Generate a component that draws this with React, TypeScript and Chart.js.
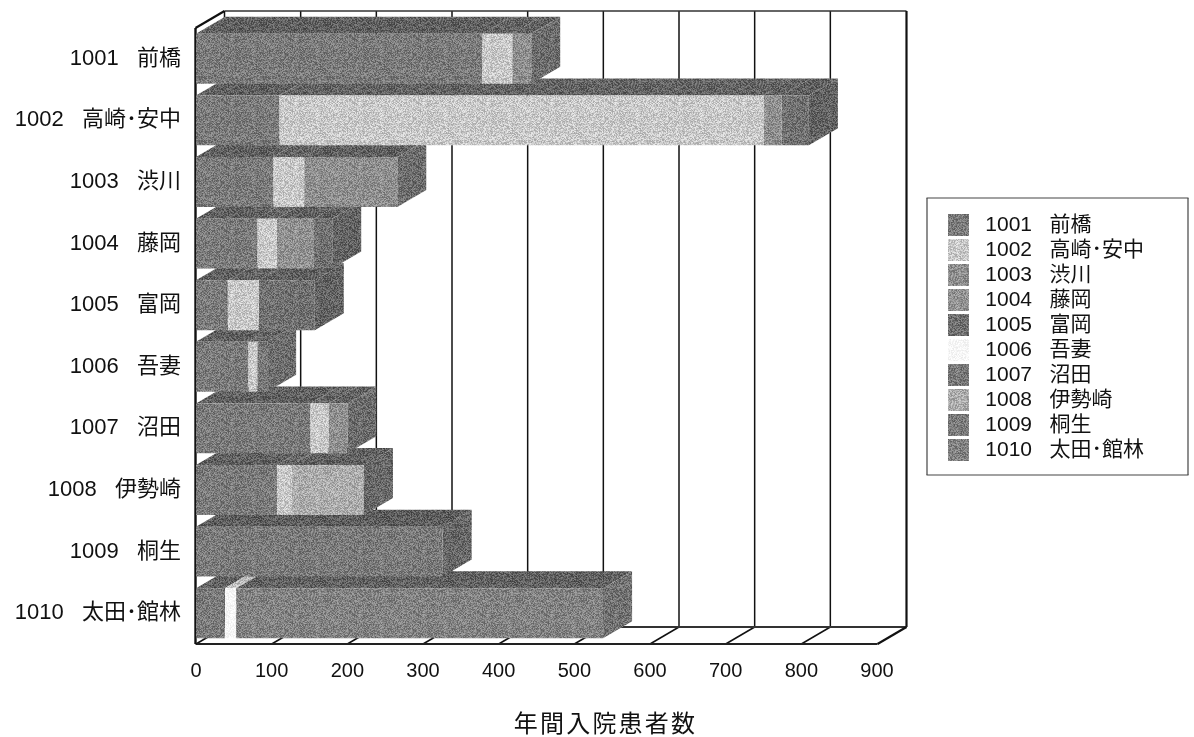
import React, { useEffect, useRef } from "react";
import { Chart, registerables } from "chart.js";

Chart.register(...registerables);

const categories = ["1001   前橋", "1002   高崎･安中", "1003   渋川", "1004   藤岡", "1005   富岡", "1006   吾妻", "1007   沼田", "1008   伊勢崎", "1009   桐生", "1010   太田･館林"];
const s1001 = [378, 110, 102, 81, 42, 69, 151, 107, 0, 38];
const s1002 = [40, 640, 41, 26, 41, 12, 24, 20, 0, 0];
const s1003 = [25, 24, 123, 0, 0, 0, 25, 0, 0, 0];
const s1004 = [0, 0, 0, 49, 0, 0, 0, 0, 0, 0];
const s1005 = [0, 36, 0, 24, 74, 0, 0, 0, 0, 0];
const s1006 = [0, 0, 0, 0, 0, 0, 0, 0, 0, 15];
const s1007 = [0, 0, 0, 0, 0, 13, 0, 0, 0, 0];
const s1008 = [0, 0, 0, 0, 0, 0, 0, 95, 0, 0];
const s1009 = [0, 0, 0, 0, 0, 0, 0, 0, 326, 0];
const s1010 = [0, 0, 0, 0, 0, 0, 0, 0, 0, 485];
const seriesValues = [s1001, s1002, s1003, s1004, s1005, s1006, s1007, s1008, s1009, s1010];
const frontGrays = [122, 200, 142, 145, 112, 246, 120, 172, 122, 130];
const topGrays = [96, 100, 96, 96, 96, 190, 96, 96, 92, 96];
const sideGrays = [108, 108, 108, 108, 98, 108, 108, 104, 102, 114];
const xMax = 900;
const xStep = 100;

const DX = 29;
const DY = 17;

function dither(gray: number): CanvasPattern {
  const n = 64;
  const c = document.createElement("canvas");
  c.width = n;
  c.height = n;
  const g = c.getContext("2d")!;
  const amp = gray > 235 ? 24 : 70;
  for (let y = 0; y < n; y++) {
    for (let x = 0; x < n; x++) {
      const h = Math.sin(x * 12.9898 + y * 78.233) * 43758.5453;
      const f = h - Math.floor(h);
      const v = Math.max(0, Math.min(255, Math.round(gray + (f - 0.5) * amp)));
      g.fillStyle = `rgb(${v},${v},${v})`;
      g.fillRect(x, y, 1, 1);
    }
  }
  return g.createPattern(c, "repeat")!;
}

const line = (ctx: CanvasRenderingContext2D, x1: number, y1: number, x2: number, y2: number, w: number, col = "#111") => {
  ctx.strokeStyle = col;
  ctx.lineWidth = w;
  ctx.beginPath();
  ctx.moveTo(x1, y1);
  ctx.lineTo(x2, y2);
  ctx.stroke();
};

const poly = (ctx: CanvasRenderingContext2D, pts: number[][], fill: CanvasPattern) => {
  ctx.fillStyle = fill;
  ctx.beginPath();
  pts.forEach((p, i) => (i ? ctx.lineTo(p[0], p[1]) : ctx.moveTo(p[0], p[1])));
  ctx.closePath();
  ctx.fill();
};

export default function App() {
  const ref = useRef<HTMLCanvasElement>(null);
  useEffect(() => {
    const topFill = topGrays.map(dither);
    const sideFill = sideGrays.map(dither);

    const frame = {
      id: "frame3d",
      beforeDraw(chart: any) {
        const { ctx, chartArea: a, scales } = chart;
        const x = scales.x;
        const lg = chart.legend;
        lg.left = 945;
        lg.right = 1186;
        lg.top = 211;
        lg.bottom = 471;
        ctx.save();
        line(ctx, 927, 198, 927, 475, 1.2, "#444");
        line(ctx, 926.5, 475, 1188.5, 475, 1.2, "#444");
        line(ctx, 1188, 475, 1188, 198, 1.2, "#444");
        line(ctx, 1188.5, 198, 926.5, 198, 1.2, "#444");
        for (let v = xStep; v < xMax; v += xStep) {
          const px = x.getPixelForValue(v);
          line(ctx, px + DX, a.top - DY, px + DX, a.bottom - DY, 1.5);
        }
        for (let v = 0; v < xMax; v += xStep) {
          const px = x.getPixelForValue(v);
          line(ctx, px, a.bottom, px + DX, a.bottom - DY, 1.5);
        }
        const L = a.left - 0.5;
        const R = a.right + 0.5;
        line(ctx, L + DX, a.top - DY, R + DX, a.top - DY, 1.5, "#333");
        line(ctx, R + DX, a.top - DY, R + DX, a.bottom - DY, 2.2);
        line(ctx, L + DX, a.top - DY, L + DX, a.bottom - DY, 1.5);
        line(ctx, L + DX, a.bottom - DY, R + DX, a.bottom - DY, 1.8, "#333");
        line(ctx, R, a.bottom, R + DX, a.bottom - DY, 2.2);
        line(ctx, L, a.bottom, R, a.bottom, 2.2, "#222");
        line(ctx, L, a.top, L + DX, a.top - DY, 2.2);
        line(ctx, L, a.top, L, a.bottom, 2.4);
        ctx.restore();

        if (!x.__patched) {
          x.__patched = true;
          const orig = x.drawTitle;
          x.drawTitle = function () {
            ctx.save();
            ctx.translate(69, 3);
            (ctx as any).letterSpacing = "2.2px";
            orig.call(this);
            ctx.restore();
          };
        }
      },
      beforeDatasetsDraw(chart: any) {
        const { ctx } = chart;
        const metas = seriesValues.map((_, i) => chart.getDatasetMeta(i));
        for (let r = categories.length - 1; r >= 0; r--) {
          let last = -1;
          metas.forEach((m: any, i: number) => {
            if (!seriesValues[i][r]) return;
            last = i;
            const el = m.data[r];
            const t = el.y - el.height / 2;
            poly(ctx, [[el.base, t], [el.x, t], [el.x + DX, t - DY], [el.base + DX, t - DY]], topFill[i]);
          });
          if (last >= 0) {
            const el = metas[last].data[r];
            const t = el.y - el.height / 2;
            const b = el.y + el.height / 2;
            poly(ctx, [[el.x, t], [el.x + DX, t - DY], [el.x + DX, b - DY], [el.x, b]], sideFill[last]);
          }
        }
      },
    };

    const family = "'Liberation Sans','Noto Sans CJK JP',sans-serif";
    const chart = new Chart(ref.current!, {
      type: "bar",
      data: {
        labels: categories,
        datasets: seriesValues.map((data, i) => ({
          label: categories[i],
          data,
          backgroundColor: dither(frontGrays[i]),
          borderWidth: 0,
          categoryPercentage: 1,
          barPercentage: 0.81,
        })),
      },
      options: {
        indexAxis: "y",
        responsive: false,
        animation: false,
        layout: { padding: { left: 0, top: 28, right: 317, bottom: 0 } },
        plugins: {
          tooltip: { enabled: false },
          legend: {
            position: "chartArea",
            align: "start",
            labels: {
              boxWidth: 21,
              boxHeight: 22,
              padding: 3,
              color: "#111",
              font: { family, size: 21 },
              generateLabels: (c: any) =>
                Chart.defaults.plugins.legend.labels.generateLabels(c).map((it: any) => ({ ...it, text: " " + it.text })),
            },
          },
        },
        scales: {
          x: {
            type: "linear",
            stacked: true,
            min: 0,
            max: xMax,
            ticks: { stepSize: xStep, color: "#111", font: { family, size: 20 }, padding: 7, maxRotation: 0 },
            grid: { display: false },
            border: { display: false },
            title: { display: true, text: "年間入院患者数", color: "#111", font: { family, size: 24 }, padding: 0 },
            afterFit: (s: any) => { s.height = 93; },
          },
          y: {
            type: "category",
            stacked: true,
            ticks: { color: "#111", font: { family, size: 22 }, padding: 7 },
            grid: { display: false },
            border: { display: false },
            afterFit: (s: any) => { s.width = 196; },
          },
        },
      } as any,
      plugins: [frame as any],
    });
    return () => chart.destroy();
  }, []);
  return (
    <div style={{ position: "absolute", left: 0, top: 0, width: 1194, height: 737, background: "#fff" }}>
      <canvas ref={ref} width={1194} height={737} style={{ display: "block" }} />
    </div>
  );
}
